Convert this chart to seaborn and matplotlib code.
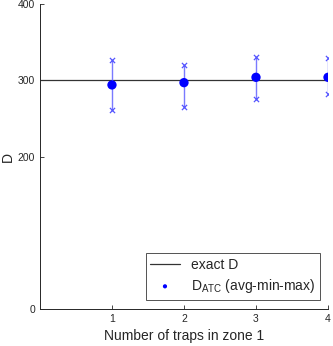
import matplotlib
matplotlib.use("Agg")
import matplotlib.pyplot as plt
import seaborn as sns
import pandas as pd

# values
traps = [1, 2, 3, 4]
d_avg = [294, 297, 304, 304]
d_min = [261, 265, 275, 282]
d_max = [327, 320, 330, 329]
exact_d = 300

sns.set_style("ticks")
plt.rcParams['font.family'] = ['Liberation Sans', 'DejaVu Sans']

df = pd.DataFrame({'traps': traps, 'avg': d_avg, 'min': d_min, 'max': d_max})

fig = plt.figure(figsize=(3.33, 3.46), dpi=100)
ax = fig.add_axes([0.12, 0.107, 0.865, 0.881])

ax.axhline(exact_d, color='#333333', linewidth=0.9, label='exact D', zorder=1)
ax.vlines(df['traps'], df['min'], df['max'], color='#7a7aff', linewidth=1.0, zorder=2)
for col in ['min', 'max']:
    sns.scatterplot(data=df, x='traps', y=col, ax=ax, marker='x', s=14,
                    color='#5555ff', linewidth=0.9, zorder=3, legend=False)
sns.scatterplot(data=df, x='traps', y='avg', ax=ax, color='blue', s=45,
                edgecolor='none', zorder=4, label=r'D$_{\mathregular{ATC}}$ (avg-min-max)')

ax.set_xlim(0, 4)
ax.set_ylim(0, 400)
ax.set_xticks(traps)
ax.set_yticks([0, 200, 300, 400])
ax.tick_params(direction='in', labelsize=7.5, colors='#262626', length=3, width=0.6)
for s in ['top', 'right']:
    ax.spines[s].set_visible(False)
for s in ['left', 'bottom']:
    ax.spines[s].set_linewidth(0.7)
    ax.spines[s].set_color('#262626')

ax.set_xlabel('Number of traps in zone 1', fontsize=10, color='#262626')
ax.set_ylabel('D', fontsize=10, color='#262626', labelpad=2)

handles, labels = ax.get_legend_handles_labels()
leg = ax.legend(handles, labels, loc='lower right', bbox_to_anchor=(0.972, 0.03),
                borderaxespad=0, fontsize=10, frameon=True, fancybox=False,
                edgecolor='#262626', handlelength=2.1, borderpad=0.35,
                labelspacing=0.35, markerscale=0.45)
leg.get_frame().set_linewidth(0.7)

fig.savefig('out.png', dpi=100)
